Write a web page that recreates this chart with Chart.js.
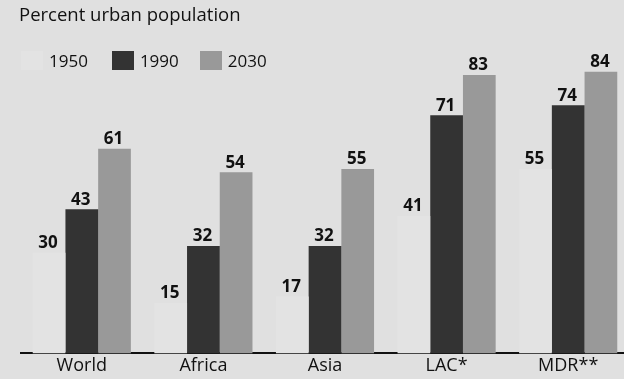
<!DOCTYPE html>
<html>
<head>
<meta charset="utf-8">
<script src="https://cdn.jsdelivr.net/npm/chart.js@4/dist/chart.umd.min.js"></script>
<style>
  html, body { margin: 0; padding: 0; background: #e0e0e0; overflow: hidden; }
  body { width: 624px; height: 379px; position: relative; font-family: "Open Sans", sans-serif; color: #111; }
  #wrap { position: absolute; left: 0; top: 0; width: 630px; height: 379px; }
  #title { position: absolute; left: 19px; top: 2px; font-size: 18.5px; line-height: 24px; }
  #legend { position: absolute; left: 21px; top: 51px; display: flex; font-size: 17px; line-height: 19px; }
  #legend .item { display: flex; align-items: center; margin-right: 24px; }
  #legend .item:nth-child(2) { margin-right: 21px; }
  #legend .box { width: 22px; height: 19px; margin-right: 6px; }
</style>
</head>
<body>
<div id="wrap"><canvas id="urbanChart" width="630" height="379"></canvas></div>
<div id="title">Percent urban population</div>
<div id="legend"></div>
<script>
// Percent urban population by region
const regions = ['World', 'Africa', 'Asia', 'LAC*', 'MDR**'];
const years = ['1950', '1990', '2030'];
const urban1950 = [30, 15, 17, 41, 55];
const urban1990 = [43, 32, 32, 71, 74];
const urban2030 = [61, 54, 55, 83, 84];
const colors = ['#e3e3e3', '#333333', '#999999'];

// value labels above each bar
const barValues = {
  id: 'barValues',
  afterDatasetsDraw(chart) {
    const ctx = chart.ctx;
    ctx.save();
    ctx.font = 'bold 17px "Open Sans"';
    ctx.fillStyle = '#111';
    ctx.textAlign = 'center';
    ctx.textBaseline = 'bottom';
    chart.data.datasets.forEach((ds, i) => {
      chart.getDatasetMeta(i).data.forEach((bar, j) => {
        ctx.fillText(ds.data[j], bar.x - 1, bar.y - 1);
      });
    });
    ctx.restore();
  }
};

const ctx = document.getElementById('urbanChart');

const chart = new Chart(ctx, {
  type: 'bar',
  data: {
    labels: regions,
    datasets: [
      { label: years[0], data: urban1950, backgroundColor: colors[0] },
      { label: years[1], data: urban1990, backgroundColor: colors[1] },
      { label: years[2], data: urban2030, backgroundColor: colors[2] }
    ]
  },
  options: {
    responsive: false,
    animation: false,
    devicePixelRatio: 1,
    layout: { padding: { left: 21, right: 1, top: 18, bottom: 0 } },
    datasets: { bar: { categoryPercentage: 0.807, barPercentage: 1 } },
    scales: {
      x: {
        grid: { display: false, drawTicks: false },
        border: { display: true, color: '#111', width: 2 },
        ticks: { color: '#111', font: { family: 'Open Sans', size: 18 }, padding: 2 }
      },
      y: { display: false, min: 0, max: 100 }
    },
    plugins: {
      legend: { display: false },
      title: { display: false },
      tooltip: { enabled: false }
    }
  },
  plugins: [barValues]
});

// legend built from the datasets
const legend = document.getElementById('legend');
chart.data.datasets.forEach(ds => {
  const item = document.createElement('div');
  item.className = 'item';
  const box = document.createElement('span');
  box.className = 'box';
  box.style.background = ds.backgroundColor;
  item.appendChild(box);
  item.appendChild(document.createTextNode(ds.label));
  legend.appendChild(item);
});
</script>
</body>
</html>
